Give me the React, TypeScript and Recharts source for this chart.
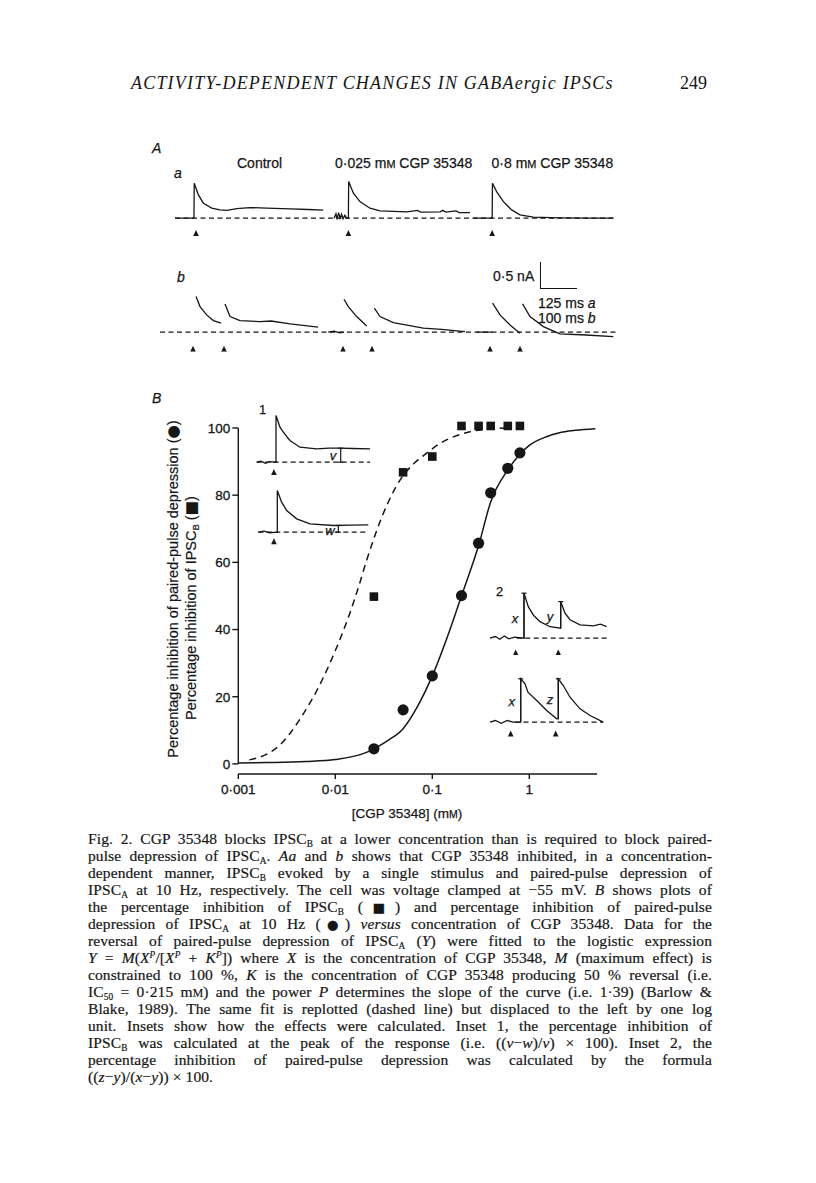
import React from "react";
import { ComposedChart, Line, Scatter, XAxis, YAxis, ReferenceLine } from "recharts";

const INK = "#161616";
const SANS = "'Liberation Sans', Arial, sans-serif";
const SERIF = "'Liberation Serif', 'Times New Roman', serif";
const SYM = "'DejaVu Sans', sans-serif";

// ---- Panel B: dose-response ----
const concentrations = [0.025, 0.05, 0.1, 0.2, 0.3, 0.4, 0.6, 0.8]; // mM
const pairedPulseInhibition = [4.5, 16.1, 26.2, 50.1, 65.7, 80.7, 88, 92.6]; // circles
const ipscBInhibition = [49.8, 86.8, 91.5, 100.6, 100.6, 100.6, 100.6, 100.6]; // squares

// fitted logistic (solid)
const fitX = [0.001, 0.002, 0.005, 0.01, 0.02, 0.025, 0.035, 0.05, 0.07, 0.1, 0.15, 0.2, 0.3, 0.4, 0.6, 0.8, 1, 1.5, 2, 3, 4.8];
const fitY = [0.3, 0.4, 0.7, 1.3, 3.2, 4.5, 7, 10.5, 17, 26.2, 39.5, 50, 65, 78, 87.5, 92.2, 94.8, 97.4, 98.5, 99.3, 99.8];
// same fit shifted one log unit (dashed)
const shiftX = [0.0013, 0.002, 0.0027, 0.0035, 0.0047, 0.0065, 0.0088, 0.0115, 0.0141, 0.0175, 0.0211, 0.0313, 0.0465, 0.065, 0.0875, 0.12, 0.17, 0.245, 0.4, 0.6];
const shiftY = [1.2, 3, 5.7, 9.5, 15, 22, 30, 38, 44.8, 53, 60.7, 74.6, 84.5, 89.5, 92.5, 95.4, 97.5, 98.9, 99.7, 100];

const xTicks = [0.001, 0.01, 0.1, 1];
const yTicks = [0, 20, 40, 60, 80, 100];

// ---- Panel A traces: [ms, nA] ----
type Pair = [number, number];
const aControl: Pair[] = [[0, 0], [64, 0], [65, 0.625], [79, 0.415], [96, 0.268], [124, 0.179], [152, 0.15], [175, 0.14], [209, 0.17], [253, 0.19], [310, 0.18], [389, 0.165], [450, 0.155], [501, 0.145]];
const aLow: Pair[] = [[538, 0], [544, 0.08], [548, -0.02], [553, 0.1], [558, 0], [563, 0.07], [568, -0.01], [574, 0.05], [580, 0], [586, 0], [587, 0.654], [603, 0.446], [625, 0.296], [659, 0.179], [693, 0.13], [783, 0.113], [820, 0.14], [830, 0.11], [896, 0.113], [905, 0.14], [915, 0.11], [950, 0.13], [960, 0.1], [997, 0.1]];
const aHigh: Pair[] = [[1008, 0], [1072, 0], [1073, 0.625], [1087, 0.475], [1110, 0.296], [1138, 0.148], [1166, 0.059], [1211, 0.018], [1300, 0.005], [1400, 0], [1481, 0]];
const aStims = [71, 586, 1072];

const bControl1: Pair[] = [[97.2, 0.636], [108, 0.457], [126, 0.309], [144, 0.207], [165, 0.161]];
const bControl2: Pair[] = [[175.5, 0.505], [189, 0.279], [216, 0.207], [270, 0.189], [300, 0.2], [351, 0.148], [427, 0.089]];
const bLowPre: Pair[] = [[454, 0], [470, 0.02], [485, -0.01], [497, 0]];
const bLow1: Pair[] = [[496.8, 0.589], [508.4, 0.457], [531, 0.279], [558, 0.112]];
const bLow2: Pair[] = [[578.6, 0.429], [594, 0.279], [630, 0.171], [711, 0.071], [760, 0.05], [823.5, 0.011]];
const bHighPre: Pair[] = [[855, 0], [898, 0]];
const bHigh1: Pair[] = [[898, 0.518], [918, 0.309], [945, 0.13], [972, -0.018]];
const bHigh2: Pair[] = [[979, 0.505], [999, 0.279], [1035, 0.1], [1080, -0.03], [1150, -0.05], [1224, -0.079]];
const bStims = [89.1, 172.8, 494.1, 572.4, 891, 972];

// ---- insets ----
const inset1Top: Pair[] = [[5.7, 0], [20, 0.02], [35, -0.02], [50, 0.01], [71, 0], [71, 0.834], [84.5, 0.625], [95.7, 0.536], [118, 0.388], [152, 0.268], [208.5, 0.239], [250, 0.25], [287, 0.25], [330, 0.245], [389, 0.239]];
const inset1Bottom: Pair[] = [[11, 0], [30, 0.02], [50, -0.01], [75.4, 0], [75.4, 0.745], [90, 0.536], [107, 0.388], [141, 0.239], [186, 0.15], [265, 0.12], [320, 0.125], [383, 0.132]];
const inset2Top: Pair[] = [[6.8, 0], [25, 0.03], [40, -0.02], [55, 0.04], [70, -0.01], [90, 0.02], [121.7, 0], [121.7, 0.804], [136.2, 0.563], [153.1, 0.414], [175.8, 0.295], [209.6, 0.205], [245.7, 0.179], [245.7, 0.654], [260.3, 0.446], [277.2, 0.33], [311, 0.238], [356, 0.22], [380, 0.25], [401, 0.208]];
const inset2Bottom: Pair[] = [[6.8, 0], [25, 0.03], [45, -0.02], [65, 0.03], [85, 0], [110.5, 0], [110.5, 0.775], [125, 0.685], [135, 0.536], [164.6, 0.387], [198.4, 0.208], [232.2, 0.06], [237.6, 0.06], [237.6, 0.775], [254.5, 0.655], [277.2, 0.446], [311, 0.238], [344.8, 0.12], [389.7, 0]];

const captionLines = [
  "Fig. 2. CGP 35348 blocks IPSC_{B} at a lower concentration than is required to block paired-",
  "pulse depression of IPSC_{A}. *Aa* and *b* shows that CGP 35348 inhibited, in a concentration-",
  "dependent manner, IPSC_{B} evoked by a single stimulus and paired-pulse depression of",
  "IPSC_{A} at 10 Hz, respectively. The cell was voltage clamped at \u221255 mV. *B* shows plots of",
  "the percentage inhibition of IPSC_{B} (#{\u25A0}) and percentage inhibition of paired-pulse",
  "depression of IPSC_{A} at 10 Hz (#{\u25CF}) *versus* concentration of CGP 35348. Data for the",
  "reversal of paired-pulse depression of IPSC_{A} (*Y*) were fitted to the logistic expression",
  "*Y* = *M*(*X*^{P}/[*X*^{P} + *K*^{P}]) where *X* is the concentration of CGP 35348, *M* (maximum effect) is",
  "constrained to 100 %, *K* is the concentration of CGP 35348 producing 50 % reversal (i.e.",
  "IC_{50} = 0\u00B7215 m~{M}) and the power *P* determines the slope of the curve (i.e. 1\u00B739) (Barlow &",
  "Blake, 1989). The same fit is replotted (dashed line) but displaced to the left by one log",
  "unit. Insets show how the effects were calculated. Inset 1, the percentage inhibition of",
  "IPSC_{B} was calculated at the peak of the response (i.e. ((*v*\u2212*w*)/*v*) \u00D7 100). Inset 2, the",
  "percentage inhibition of paired-pulse depression was calculated by the formula",
  "((*z*\u2212*y*)/(*x*\u2212*y*)) \u00D7 100.",
];

// tiny markup: *italic*, _{sub}, ^{sup}, ~{small caps}, #{symbol}
function rich(s: string) {
  const out: React.ReactNode[] = [];
  let italic = false;
  let buf = "";
  let k = 0;
  const flush = () => {
    if (buf) out.push(italic ? <i key={k++}>{buf}</i> : <span key={k++}>{buf}</span>);
    buf = "";
  };
  let i = 0;
  while (i < s.length) {
    const c = s[i];
    if (c === "*") {
      flush();
      italic = !italic;
      i++;
      continue;
    }
    if ((c === "_" || c === "^" || c === "~" || c === "#") && s[i + 1] === "{") {
      flush();
      const end = s.indexOf("}", i);
      const inner = s.slice(i + 2, end);
      if (c === "_")
        out.push(<span key={k++} style={{ fontSize: "0.6em", verticalAlign: "-0.3em", lineHeight: 0 }}>{inner}</span>);
      else if (c === "^")
        out.push(<span key={k++} style={{ fontSize: "0.6em", verticalAlign: "0.55em", lineHeight: 0, fontStyle: "italic" }}>{inner}</span>);
      else if (c === "#")
        out.push(<span key={k++} style={{ fontFamily: SYM, fontSize: "0.85em", lineHeight: 0 }}>{inner}</span>);
      else out.push(<span key={k++} style={{ fontSize: "0.76em" }}>{inner}</span>);
      i = end + 1;
      continue;
    }
    buf += c;
    i++;
  }
  flush();
  return out;
}

const Txt = ({ x, y, size = 14, italic = false, anchor = "start", family = SANS, children }: any) => {
  const lh = Math.round(size * 1.2);
  const w = 600;
  const left = anchor === "middle" ? x - w / 2 : x;
  return (
    <div
      style={{
        position: "absolute",
        left,
        top: y - lh / 2,
        width: anchor === "middle" ? w : undefined,
        textAlign: anchor === "middle" ? "center" : "left",
        fontSize: size,
        lineHeight: `${lh}px`,
        fontFamily: family,
        fontStyle: italic ? "italic" : "normal",
        whiteSpace: "nowrap",
        color: INK,
        WebkitTextStroke: "0.25px " + INK,
      }}
    >
      {children}
    </div>
  );
};

const Tri = (p: any) => (
  <path d={`M${p.cx - 2.8},${p.cy + 2.8} L${p.cx + 2.8},${p.cy + 2.8} L${p.cx},${p.cy - 3.2} Z`} fill={INK} />
);
const Dot = (p: any) => <circle cx={p.cx} cy={p.cy} r={5.6} fill={INK} />;
const Sq = (p: any) => <rect x={p.cx - 4.3} y={p.cy - 4.3} width={8.6} height={8.6} fill={INK} />;

interface Bar {
  t: number;
  i0: number;
  i1: number;
  both?: boolean;
}

interface TraceProps {
  left: number;
  top: number;
  width: number;
  height: number;
  tMax: number;
  iMin: number;
  iMax: number;
  sweeps: Pair[][];
  base: [number, number];
  stims: number[];
  stimI: number;
  bars?: Bar[];
}

function Traces(p: TraceProps) {
  const pts = (s: Pair[]) => s.map(([t, i]) => ({ t, i }));
  const segs: { t: number; i: number }[][] = [];
  (p.bars || []).forEach((b) => {
    const cap = (p.tMax / p.width) * 2.5;
    segs.push([{ t: b.t, i: b.i0 }, { t: b.t, i: b.i1 }]);
    segs.push([{ t: b.t - cap, i: b.i1 }, { t: b.t + cap, i: b.i1 }]);
    if (b.both) segs.push([{ t: b.t - cap, i: b.i0 }, { t: b.t + cap, i: b.i0 }]);
  });
  return (
    <div style={{ position: "absolute", left: p.left, top: p.top }}>
      <ComposedChart width={p.width} height={p.height} margin={{ top: 0, right: 0, bottom: 0, left: 0 }}>
        <XAxis hide type="number" dataKey="t" domain={[0, p.tMax]} allowDataOverflow />
        <YAxis hide type="number" dataKey="i" domain={[p.iMin, p.iMax]} allowDataOverflow />
        <Line
          data={[{ t: p.base[0], i: 0 }, { t: p.base[1], i: 0 }]}
          dataKey="i"
          type="linear"
          stroke={INK}
          strokeWidth={1.2}
          strokeDasharray="5 3.5"
          dot={false}
          isAnimationActive={false}
        />
        {p.sweeps.map((s, k) => (
          <Line key={`s${k}`} data={pts(s)} dataKey="i" type="linear" stroke={INK} strokeWidth={1.3} dot={false} isAnimationActive={false} />
        ))}
        {segs.map((s, k) => (
          <Line key={`b${k}`} data={s} dataKey="i" type="linear" stroke={INK} strokeWidth={1.2} dot={false} isAnimationActive={false} />
        ))}
        <Scatter data={p.stims.map((t) => ({ t, i: p.stimI }))} dataKey="i" shape={Tri} isAnimationActive={false} />
      </ComposedChart>
    </div>
  );
}

const mM = (
  <>
    m<span style={{ fontSize: "0.78em" }}>M</span>
  </>
);

export default function App() {
  const circleData = concentrations.map((x, i) => ({ x, y: pairedPulseInhibition[i] }));
  const squareData = concentrations.map((x, i) => ({ x, y: ipscBInhibition[i] }));
  const fitData = fitX.map((x, i) => ({ x, y: fitY[i] }));
  const shiftData = shiftX.map((x, i) => ({ x, y: shiftY[i] }));
  const tickStyle = { fill: INK, fontSize: 13.5, fontFamily: SANS, stroke: INK, strokeWidth: 0.3 };
  const yLabel = {
    position: "absolute" as const,
    width: 440,
    height: 18,
    lineHeight: "18px",
    textAlign: "center" as const,
    transform: "rotate(-90deg)",
    fontFamily: SANS,
    fontSize: 14.5,
    whiteSpace: "nowrap" as const,
    WebkitTextStroke: "0.2px " + INK,
  };
  const sym = { fontFamily: SYM, fontSize: "1.05em", lineHeight: 0 };

  return (
    <div style={{ position: "absolute", left: 0, top: 0, width: 816, height: 1183, background: "#fff", overflow: "hidden", color: INK }}>
      {/* running head */}
      <div style={{ position: "absolute", left: 131, top: 72, fontFamily: SERIF, fontStyle: "italic", fontSize: 18, letterSpacing: "1.2px", lineHeight: "22px", whiteSpace: "nowrap" }}>
        ACTIVITY-DEPENDENT CHANGES IN GABAergic IPSCs
      </div>
      <div style={{ position: "absolute", left: 680, top: 72, fontFamily: SERIF, fontSize: 18, lineHeight: "22px" }}>249</div>

      {/* Panel A labels */}
      <Txt x={152} y={148} italic>A</Txt>
      <Txt x={174} y={173} italic>a</Txt>
      <Txt x={237} y={163}>Control</Txt>
      <Txt x={335} y={163}>0·025 {mM} CGP 35348</Txt>
      <Txt x={491.5} y={163}>0·8 {mM} CGP 35348</Txt>
      <Txt x={177} y={277} italic>b</Txt>
      <Txt x={493} y={276}>0·5 nA</Txt>
      <Txt x={538} y={303}>125 ms <i>a</i></Txt>
      <Txt x={538} y={318.5}>100 ms <i>b</i></Txt>
      <div style={{ position: "absolute", left: 540, top: 261.7, width: 1.4, height: 27, background: INK }} />
      <div style={{ position: "absolute", left: 540, top: 287.7, width: 37, height: 1.4, background: INK }} />

      <Traces left={175} top={179.1} width={440} height={58.8} tMax={1487.2} iMin={-0.35} iMax={0.7}
        sweeps={[aControl, aLow, aHigh]} base={[0, 1487]} stims={aStims} stimI={-0.268} />
      <Traces left={160} top={293.1} width={458} height={58.8} tMax={1236.6} iMin={-0.35} iMax={0.7}
        sweeps={[bControl1, bControl2, bLowPre, bLow1, bLow2, bHighPre, bHigh1, bHigh2]} base={[0, 1234]} stims={bStims} stimI={-0.298} />

      {/* Panel B labels */}
      <Txt x={152} y={398} italic>B</Txt>
      <div style={{ ...yLabel, left: 172.5 - 220, top: 589 - 9 }}>
        Percentage inhibition of paired-pulse depression (<span style={sym}>●</span>)
      </div>
      <div style={{ ...yLabel, left: 191 - 220, top: 608 - 9 }}>
        Percentage inhibition of IPSC<span style={{ fontSize: "0.65em", verticalAlign: "-0.3em", lineHeight: 0 }}>B</span> (<span style={sym}>■</span>)
      </div>
      <Txt x={407} y={814} anchor="middle" size={13.5}>[CGP 35348] ({mM})</Txt>

      <div style={{ position: "absolute", left: 150, top: 400 }}>
        <ComposedChart width={470} height={430} margin={{ top: 17.9, right: 22.9, bottom: 26, left: 48.3 }}>
          <XAxis
            type="number"
            dataKey="x"
            scale="log"
            domain={[0.001, 5]}
            allowDataOverflow
            ticks={xTicks}
            tickFormatter={(v: number) => String(v).replace(".", "·")}
            height={30}
            tickSize={5}
            tickMargin={5}
            tick={tickStyle}
            axisLine={{ stroke: INK, strokeWidth: 1.4 }}
            tickLine={{ stroke: INK, strokeWidth: 1.4 }}
          />
          <YAxis
            type="number"
            dataKey="y"
            domain={[-3, 103]}
            ticks={yTicks}
            width={40}
            tickSize={6}
            tick={tickStyle}
            axisLine={false}
            tickLine={{ stroke: INK, strokeWidth: 1.4 }}
          />
          <ReferenceLine segment={[{ x: 0.001, y: 0 }, { x: 0.001, y: 100 }]} stroke={INK} strokeWidth={1.4} />
          <Line data={shiftData} dataKey="y" type="monotone" stroke={INK} strokeWidth={1.5} strokeDasharray="7 5" dot={false} isAnimationActive={false} />
          <Line data={fitData} dataKey="y" type="monotone" stroke={INK} strokeWidth={1.5} dot={false} isAnimationActive={false} />
          <Scatter data={squareData} dataKey="y" shape={Sq} isAnimationActive={false} />
          <Scatter data={circleData} dataKey="y" shape={Dot} isAnimationActive={false} />
        </ComposedChart>
      </div>

      {/* Inset 1 */}
      <Txt x={259} y={410} size={13}>1</Txt>
      <Traces left={255} top={408.5} width={120} height={70} tMax={405.6} iMin={-0.3} iMax={0.95}
        sweeps={[inset1Top]} base={[5.7, 389]} stims={[64]} stimI={-0.179}
        bars={[{ t: 289.7, i0: 0, i1: 0.25, both: true }]} />
      <Traces left={255} top={478.5} width={120} height={70} tMax={405.6} iMin={-0.3} iMax={0.95}
        sweeps={[inset1Bottom]} base={[11, 383]} stims={[64]} stimI={-0.166}
        bars={[{ t: 281.5, i0: 0, i1: 0.12, both: true }]} />
      <Txt x={333} y={456} size={13} italic anchor="middle">v</Txt>
      <Txt x={330} y={531} size={13} italic anchor="middle">w</Txt>

      {/* Inset 2 */}
      <Txt x={496} y={592} size={13}>2</Txt>
      <Traces left={488} top={585.1} width={122} height={70} tMax={412.4} iMin={-0.3} iMax={0.95}
        sweeps={[inset2Top]} base={[97, 406.6]} stims={[93.6, 237.6]} stimI={-0.257}
        bars={[{ t: 121.7, i0: 0, i1: 0.804 }, { t: 245.7, i0: 0.179, i1: 0.654 }]} />
      <Traces left={488} top={668.5} width={122} height={70} tMax={412.4} iMin={-0.3} iMax={0.95}
        sweeps={[inset2Bottom]} base={[91.3, 389.7]} stims={[76.7, 228.8]} stimI={-0.207}
        bars={[{ t: 110.5, i0: 0, i1: 0.775 }, { t: 237.6, i0: 0.06, i1: 0.775 }]} />
      <Txt x={515} y={619} size={13} italic anchor="middle">x</Txt>
      <Txt x={550} y={617} size={13} italic anchor="middle">y</Txt>
      <Txt x={511.7} y={701.7} size={13} italic anchor="middle">x</Txt>
      <Txt x={550} y={700} size={13} italic anchor="middle">z</Txt>

      {/* caption */}
      {captionLines.map((line, i) => {
        const last = i === captionLines.length - 1;
        return (
          <div
            key={i}
            style={{
              position: "absolute",
              left: 88,
              top: 838 + i * 17 - 8.5,
              width: 624,
              height: 17,
              lineHeight: "17px",
              fontFamily: SERIF,
              fontSize: 15.5,
              letterSpacing: "0.1px",
              textAlign: last ? "left" : "justify",
              textAlignLast: last ? "left" : "justify",
              color: INK,
              WebkitTextStroke: "0.2px " + INK,
            }}
          >
            {rich(line)}
          </div>
        );
      })}
    </div>
  );
}
